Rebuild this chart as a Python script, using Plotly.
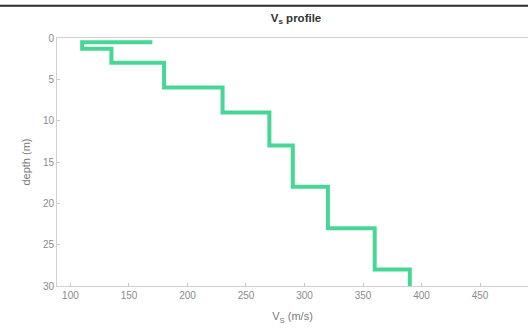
import plotly.graph_objects as go

# Step profile vertices (Vs in m/s, depth in m)
vs = [170, 110, 110, 135, 135, 180, 180, 230, 230, 270, 270, 290, 290, 320, 320, 360, 360, 390, 390]
depth = [0.5, 0.5, 1.3, 1.3, 3, 3, 6, 6, 9, 9, 13, 13, 18, 18, 23, 23, 28, 28, 30]

x_ticks = [100, 150, 200, 250, 300, 350, 400, 450]
y_ticks = [0, 5, 10, 15, 20, 25, 30]

fig = go.Figure()
fig.add_trace(go.Scatter(
    x=vs, y=depth, mode="lines",
    line=dict(color="rgb(72,214,150)", width=4),
    showlegend=False, hoverinfo="skip",
))

axis_font = dict(family="Arial, Liberation Sans, sans-serif", size=10, color="#8a8a8a")

fig.update_layout(
    width=528, height=329,
    margin=dict(l=57, r=0, t=37.5, b=42.5, autoexpand=False),
    paper_bgcolor="white", plot_bgcolor="white",
    title=dict(text="<b>V<sub>s</sub> profile</b>", x=296 / 528, xref="container", xanchor="center",
               y=1 - 18 / 329, yref="container", yanchor="middle",
               font=dict(family="Arial, Liberation Sans, sans-serif", size=11.5, color="#333333")),
    xaxis=dict(
        range=[88.5, 491], tickvals=x_ticks, ticktext=[str(v) for v in x_ticks],
        showgrid=False, zeroline=False, automargin=False,
        showline=True, linecolor="#d0d0d0", linewidth=1, mirror=True,
        ticks="inside", ticklen=3, tickcolor="#c8c8c8",
        tickfont=axis_font,
        title=dict(text="V<sub>S</sub> (m/s)", standoff=12,
                   font=dict(family="Arial, Liberation Sans, sans-serif", size=11, color="#7a7a7a")),
    ),
    yaxis=dict(
        range=[30, 0], tickvals=y_ticks, ticktext=[str(v) for v in y_ticks],
        showgrid=False, zeroline=False, automargin=False,
        showline=True, linecolor="#d0d0d0", linewidth=1,
        ticks="inside", ticklen=3, tickcolor="#c8c8c8",
        tickfont=axis_font,
        title=dict(text="depth (m)", standoff=10,
                   font=dict(family="Arial, Liberation Sans, sans-serif", size=11, color="#7a7a7a")),
    ),
    shapes=[dict(type="rect", xref="paper", yref="paper", x0=-0.2, x1=1.05,
                 y0=(329 - 42.5 - 6) / 249, y1=(329 - 42.5 - 4) / 249,
                 fillcolor="#2a2a2a", line=dict(width=0), layer="above")],
)

fig.write_html("out.html", config={"displayModeBar": False},
               post_script="document.body.style.margin='0';document.body.style.overflow='hidden';")
